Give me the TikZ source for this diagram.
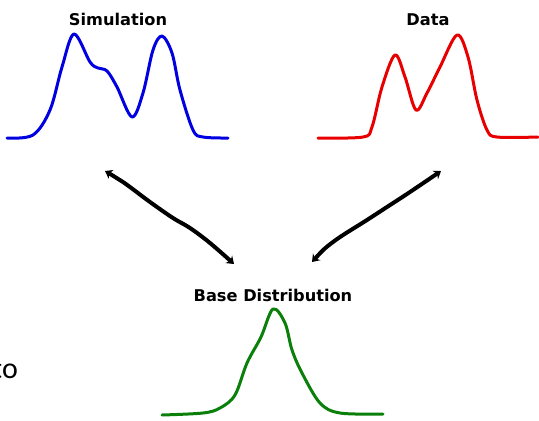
\documentclass[tikz,border=0pt]{standalone}
\usepackage{fontspec}
\setsansfont{DejaVu Sans}
\newfontfamily\slidefont{Carlito}
\usetikzlibrary{arrows.meta}
\definecolor{simbleu}{HTML}{0000E0}
\definecolor{datrouge}{HTML}{E80000}
\definecolor{basevert}{HTML}{0A800A}

\begin{document}
\begin{tikzpicture}[x=1pt,y=-1pt,
  titre/.style={font=\sffamily\bfseries\fontsize{16.2}{19}\selectfont, anchor=base, inner sep=0pt},
  courbe/.style={line width=3pt, line cap=round, line join=round},
  lien/.style={{Stealth[length=7pt,width=10pt]}-{Stealth[length=7pt,width=10pt]}, line width=4pt, black, line cap=round}]
  \useasboundingbox (0,0) rectangle (539,421);
  % titres
  \node[titre] (sim)  at (118,25)  {Simulation};
  \node[titre] (dat)  at (428,25)  {Data};
  \node[titre] (base) at (273,301) {Base Distribution};
  % courbes
  \draw[courbe, simbleu] plot[smooth, tension=0.55] coordinates {(7,138) (33,135) (50,110) (62,67) (74,34) (90,62) (98,68) (107,71) (117,87) (132,117) (143,93) (153,50) (162,36) (172,53) (180,90) (193,130) (203,137) (228,138)};
  \draw[courbe, datrouge] plot[smooth, tension=0.55] coordinates {(318,138) (363,137) (372,127) (382,87) (395,55) (405,77) (416,110) (427,93) (440,67) (457,35) (468,57) (477,100) (487,130) (497,137) (538,137)};
  \draw[courbe, basevert] plot[smooth, tension=0.55] coordinates {(162,415) (203,413) (220,408) (235,395) (247,363) (261,337) (273,309) (285,323) (292,350) (302,373) (320,403) (340,413) (383,414)};
  % extrémités des liens
  \coordinate (simpied) at (105,171);
  \coordinate (basegauche) at (234,264);
  \coordinate (datpied) at (441,171);
  \coordinate (basedroite) at (312,262);
  % liens
  \draw[lien] plot[smooth, tension=0.6] coordinates {(simpied) (123,182) (150,202) (173,218) (190,228) (210,243) (basegauche)};
  \draw[lien] plot[smooth, tension=0.6] coordinates {(basedroite) (333,242) (367,220) (387,207) (410,192) (datpied)};
  % bord de la diapositive
  \node[font=\slidefont\fontsize{30}{36}\selectfont, anchor=base east, inner sep=0pt] (bord) at (18,378) {to};
\end{tikzpicture}
\end{document}
